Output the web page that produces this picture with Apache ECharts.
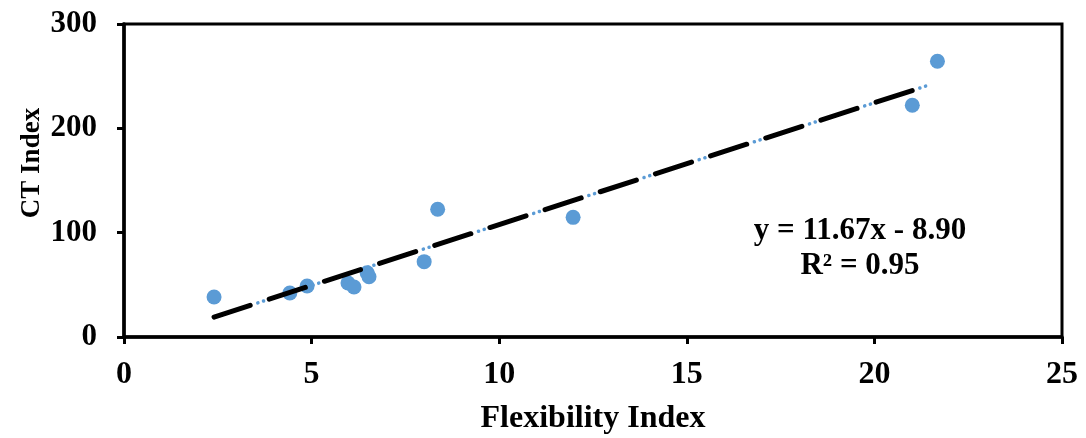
<!DOCTYPE html>
<html>
<head>
<meta charset="utf-8">
<script src="https://cdn.jsdelivr.net/npm/echarts@6/dist/echarts.min.js"></script>
<style>
html,body{margin:0;padding:0;background:#fff;}
#chart{width:1086px;height:438px;}
</style>
</head>
<body>
<div id="chart"></div>
<script>
// Data
var flexIndex = [2.40, 4.42, 4.88, 5.97, 6.13, 6.48, 6.53, 8.00, 8.36, 11.97, 21.01, 21.68];
var ctIndex   = [38.3, 42.2, 48.9, 51.8, 47.9, 61.6, 57.8, 72.2, 122.4, 114.7, 222.1, 264.3];
var trendX = [2.40, 21.50];
var trendY = [19.1, 242.0];
var xTicks = [0, 5, 10, 15, 20, 25];
var yTicks = [0, 100, 200, 300];
var xName = 'Flexibility Index';
var yName = 'CT Index';
var eqText = 'y = 11.67x - 8.90';
var r2Text = 'R² = 0.95';

var pts = flexIndex.map(function (x, i) { return [x, ctIndex[i]]; });
var trend = trendX.map(function (x, i) { return [x, trendY[i]]; });

var font = '"Liberation Serif", "Times New Roman", serif';
var chart = echarts.init(document.getElementById('chart'), null, {renderer: 'canvas'});
chart.setOption({
  animation: false,
  backgroundColor: '#fff',
  grid: {left: 124, right: 24, top: 24, bottom: 101, containLabel: false, outerBoundsMode: 'none',
         show: true, borderColor: '#000', borderWidth: 3},
  xAxis: {
    type: 'value', min: xTicks[0], max: xTicks[xTicks.length - 1], interval: 5,
    name: xName, nameLocation: 'middle', nameGap: 66,
    nameTextStyle: {fontFamily: font, fontWeight: 'bold', fontSize: 32, color: '#000'},
    axisLine: {show: true, lineStyle: {color: '#000', width: 3.5}},
    axisTick: {show: true, length: 7, lineStyle: {color: '#000', width: 3}},
    axisLabel: {margin: 22, fontFamily: font, fontWeight: 'bold', fontSize: 32, color: '#000'},
    splitLine: {show: false}
  },
  yAxis: {
    type: 'value', min: yTicks[0], max: yTicks[yTicks.length - 1], interval: 100,
    axisLine: {show: true, lineStyle: {color: '#000', width: 3.5}},
    axisTick: {show: true, length: 7, lineStyle: {color: '#000', width: 3}},
    axisLabel: {margin: 27, fontFamily: font, fontWeight: 'bold', fontSize: 31, color: '#000'},
    splitLine: {show: false}
  },
  series: [
    {
      type: 'scatter', data: pts, symbolSize: 15, z: 2,
      itemStyle: {color: '#5B9BD5', opacity: 1}
    },
    {
      type: 'line', data: trend, showSymbol: false, symbol: 'none', z: 3,
      lineStyle: {color: '#5B9BD5', width: 3.5, cap: 'round', type: [0.1, 5.9, 0.1, 51.9], dashOffset: 12}
    },
    {
      type: 'line', data: trend, showSymbol: false, symbol: 'none', z: 4,
      lineStyle: {color: '#000', width: 5, cap: 'round', type: [38, 20], dashOffset: 0}
    }
  ],
  graphic: [
    {type: 'text', x: 32, y: 163, rotation: Math.PI / 2, z: 10,
     style: {text: yName, align: 'center', verticalAlign: 'middle',
             font: 'bold 27px ' + font, fill: '#000'}},
    {type: 'text', x: 860, y: 231, z: 10,
     style: {text: eqText, align: 'center', verticalAlign: 'middle',
             font: 'bold 31px ' + font, fill: '#000'}},
    {type: 'text', x: 860, y: 266, z: 10,
     style: {text: r2Text, align: 'center', verticalAlign: 'middle',
             font: 'bold 31px ' + font, fill: '#000'}}
  ]
});
</script>
</body>
</html>
